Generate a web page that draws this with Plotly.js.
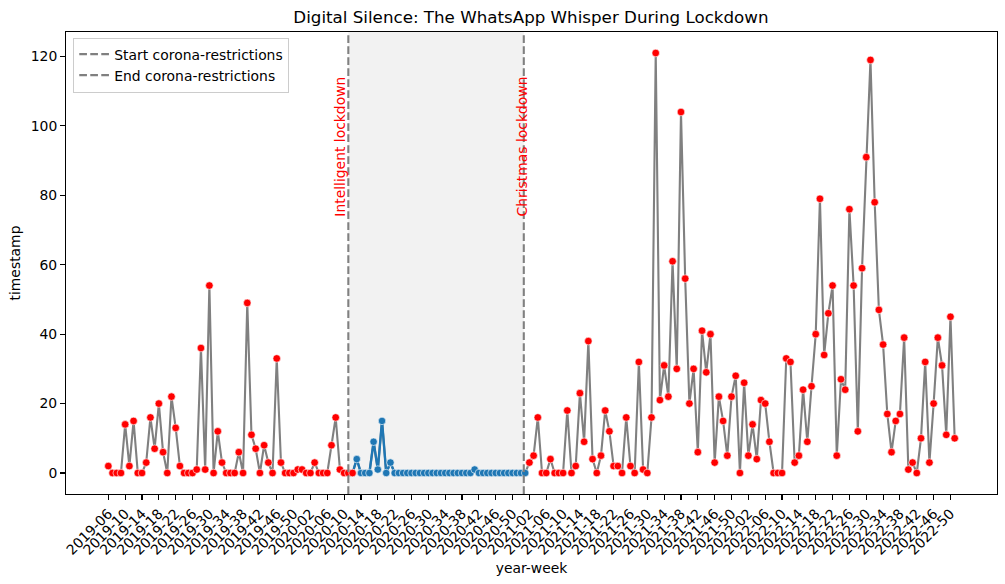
<!DOCTYPE html>
<html>
<head>
<meta charset="utf-8">
<script src="https://cdn.plot.ly/plotly-3.0.1.min.js"></script>
<style>html,body{margin:0;padding:0;background:#fff;}#chart{width:1005px;height:584px;}</style>
</head>
<body>
<div id="chart"></div>
<script>
// ---- data ----
const categories = [
"2019-06","2019-07","2019-08","2019-09","2019-10","2019-11","2019-12","2019-13","2019-14","2019-15","2019-16","2019-17","2019-18","2019-19","2019-20","2019-21","2019-22","2019-23","2019-24","2019-25","2019-26","2019-27","2019-28","2019-29","2019-30","2019-31","2019-32","2019-33","2019-34","2019-35","2019-36","2019-37","2019-38","2019-39","2019-40","2019-41","2019-42","2019-43","2019-44","2019-45","2019-46","2019-47","2019-48","2019-49","2019-50","2019-51","2019-52",
"2020-01","2020-02","2020-03","2020-04","2020-05","2020-06","2020-07","2020-08","2020-09","2020-10","2020-11","2020-12","2020-13","2020-14","2020-15","2020-16","2020-17","2020-18","2020-19","2020-20","2020-21","2020-22","2020-23","2020-24","2020-25","2020-26","2020-27","2020-28","2020-29","2020-30","2020-31","2020-32","2020-33","2020-34","2020-35","2020-36","2020-37","2020-38","2020-39","2020-40","2020-41","2020-42","2020-43","2020-44","2020-45","2020-46","2020-47","2020-48","2020-49","2020-50","2020-51","2020-52",
"2021-01","2021-02","2021-03","2021-04","2021-05","2021-06","2021-07","2021-08","2021-09","2021-10","2021-11","2021-12","2021-13","2021-14","2021-15","2021-16","2021-17","2021-18","2021-19","2021-20","2021-21","2021-22","2021-23","2021-24","2021-25","2021-26","2021-27","2021-28","2021-29","2021-30","2021-31","2021-32","2021-33","2021-34","2021-35","2021-36","2021-37","2021-38","2021-39","2021-40","2021-41","2021-42","2021-43","2021-44","2021-45","2021-46","2021-47","2021-48","2021-49","2021-50","2021-51","2021-52",
"2022-01","2022-02","2022-03","2022-04","2022-05","2022-06","2022-07","2022-08","2022-09","2022-10","2022-11","2022-12","2022-13","2022-14","2022-15","2022-16","2022-17","2022-18","2022-19","2022-20","2022-21","2022-22","2022-23","2022-24","2022-25","2022-26","2022-27","2022-28","2022-29","2022-30","2022-31","2022-32","2022-33","2022-34","2022-35","2022-36","2022-37","2022-38","2022-39","2022-40","2022-41","2022-42","2022-43","2022-44","2022-45","2022-46","2022-47","2022-48","2022-49","2022-50","2022-51"
];

const counts = [
2,0,0,0,14,2,15,0,0,3, 16,7,20,6,0,22,13,2,0,0,
0,1,36,1,54,0,12,3,0,0, 0,6,0,49,11,7,0,8,3,0,
33,3,0,0,0,1,1,0,0,3, 0,0,0,8,16,1,0,0,0,
4,0,0,0,9,1,15,0,3,0, 0,0,0,0,0,0,0,0,0,0,
0,0,0,0,0,0,0,0,1,0, 0,0,0,0,0,0,0,0,0,0, 0,
3,5,16,0,0,4,0,0,0,18, 0,2,23,9,38,4,0,5,18,12,
2,2,0,16,2,0,32,1,0,16, 121,21,31,22,61,30,104,56,20,30,
6,41,29,40,3,22,15,5,22,28, 0,26,5,14,4,21,20,9,0,0,
0,33,32,3,5,24,9,25,40,79, 34,46,54,5,27,24,76,54,12,59,
91,119,78,47,37,17,6,15,17,39, 1,3,0,10,32,3,20,39,31,11,
45,10
];

const tickLabels = [
"2019-06","2019-10","2019-14","2019-18","2019-22","2019-26","2019-30","2019-34","2019-38","2019-42","2019-46","2019-50",
"2020-02","2020-06","2020-10","2020-14","2020-18","2020-22","2020-26","2020-30","2020-34","2020-38","2020-42","2020-46","2020-50",
"2021-02","2021-06","2021-10","2021-14","2021-18","2021-22","2021-26","2021-30","2021-34","2021-38","2021-42","2021-46","2021-50",
"2022-02","2022-06","2022-10","2022-14","2022-18","2022-22","2022-26","2022-30","2022-34","2022-38","2022-42","2022-46","2022-50"
];

const legendNames = ["Start corona-restrictions", "End corona-restrictions"];
const lineLabels = ["Intelligent lockdown", "Christmas lockdown"];

// lockdown segment (category index range drawn in blue)
const blueFrom = "2020-12", blueTo = "2021-01";
// ---- end data ----

const iFrom = categories.indexOf(blueFrom), iTo = categories.indexOf(blueTo);
const blueY = counts.map((v, i) => (i >= iFrom && i <= iTo) ? v : null);
const redY = counts.map((v, i) => (i > iFrom && i <= iTo) ? null : v);

const FONT = "DejaVu Sans";
const FS = 13.9;
const dash = "7.7px,3.3px";

// vertical line positions (category-index scale)
const startPos = categories.indexOf("2020-11");
const endPos = categories.indexOf("2020-52") + 0.67;

const traces = [
  {x: categories, y: counts, type: "scatter", mode: "lines",
   line: {color: "#808080", width: 2.1}, showlegend: false, hoverinfo: "skip"},
  {x: categories, y: blueY, type: "scatter", mode: "lines+markers",
   line: {color: "#1f77b4", width: 2.4},
   marker: {color: "#1f77b4", size: 7.5, line: {color: "#ffffff", width: 0.6}},
   showlegend: false},
  {x: categories, y: redY, type: "scatter", mode: "markers",
   marker: {color: "#ff0000", size: 7.6, line: {color: "#ffffff", width: 0.6}},
   showlegend: false},
  {x: [null], y: [null], type: "scatter", mode: "lines", name: legendNames[0],
   line: {color: "#808080", width: 2.1, dash: dash}},
  {x: [null], y: [null], type: "scatter", mode: "lines", name: legendNames[1],
   line: {color: "#808080", width: 2.1, dash: dash}}
];

const layout = {
  width: 1005, height: 584,
  margin: {l: 66, r: 8, t: 32, b: 90, pad: 0},
  paper_bgcolor: "#ffffff", plot_bgcolor: "#ffffff",
  font: {family: FONT, size: FS, color: "#000000"},
  title: {text: "Digital Silence: The WhatsApp Whisper During Lockdown",
          font: {family: FONT, size: 16.7, color: "#000"},
          x: 0.5283, xanchor: "center", y: (584 - 17) / 584, yref: "container", yanchor: "middle"},
  xaxis: {
    type: "category", categoryorder: "array", categoryarray: categories,
    range: [-10.05, 211.05], autorange: false,
    tickmode: "array", tickvals: tickLabels, ticktext: tickLabels,
    tickangle: -45, ticks: "outside", ticklen: 4.9, tickwidth: 1.1, tickcolor: "#000",
    showline: true, mirror: true, linecolor: "#000", linewidth: 1.1,
    showgrid: false, zeroline: false,
    tickfont: {family: FONT, size: FS, color: "#000"},
    title: {text: "year-week", font: {family: FONT, size: FS, color: "#000"}, standoff: 6}
  },
  yaxis: {
    range: [-6.05, 127.05], autorange: false,
    tickmode: "array", tickvals: [0, 20, 40, 60, 80, 100, 120],
    ticks: "outside", ticklen: 4.9, tickwidth: 1.1, tickcolor: "#000",
    showline: true, mirror: true, linecolor: "#000", linewidth: 1.1,
    showgrid: false, zeroline: false,
    tickfont: {family: FONT, size: FS, color: "#000"},
    title: {text: "timestamp", font: {family: FONT, size: FS, color: "#000"}, standoff: 6}
  },
  shapes: [
    {type: "rect", xref: "x", yref: "paper", x0: startPos, x1: endPos, y0: 0, y1: 1,
     fillcolor: "#f2f2f2", line: {width: 0}, layer: "below"},
    {type: "line", xref: "x", yref: "paper", x0: startPos, x1: startPos, y0: 0, y1: 1,
     line: {color: "#808080", width: 2.1, dash: dash}, layer: "above"},
    {type: "line", xref: "x", yref: "paper", x0: endPos, x1: endPos, y0: 0, y1: 1,
     line: {color: "#808080", width: 2.1, dash: dash}, layer: "above"}
  ],
  annotations: [
    {x: startPos - 1.9, y: 94.1, xref: "x", yref: "y", text: lineLabels[0], textangle: -90,
     showarrow: false, xanchor: "center", yanchor: "middle",
     font: {family: FONT, size: FS, color: "#ff0000"}},
    {x: endPos - 0.4, y: 94.1, xref: "x", yref: "y", text: lineLabels[1], textangle: -90,
     showarrow: false, xanchor: "center", yanchor: "middle",
     font: {family: FONT, size: FS, color: "#ff0000"}}
  ],
  legend: {x: 0.0078, y: 0.988, xanchor: "left", yanchor: "top",
           bgcolor: "rgba(255,255,255,0.8)", bordercolor: "#cccccc", borderwidth: 1,
           font: {family: FONT, size: FS, color: "#000"}, tracegroupgap: 0},
  showlegend: true,
  hovermode: false
};

Plotly.newPlot("chart", traces, layout, {displayModeBar: false, staticPlot: true});
</script>
</body>
</html>
